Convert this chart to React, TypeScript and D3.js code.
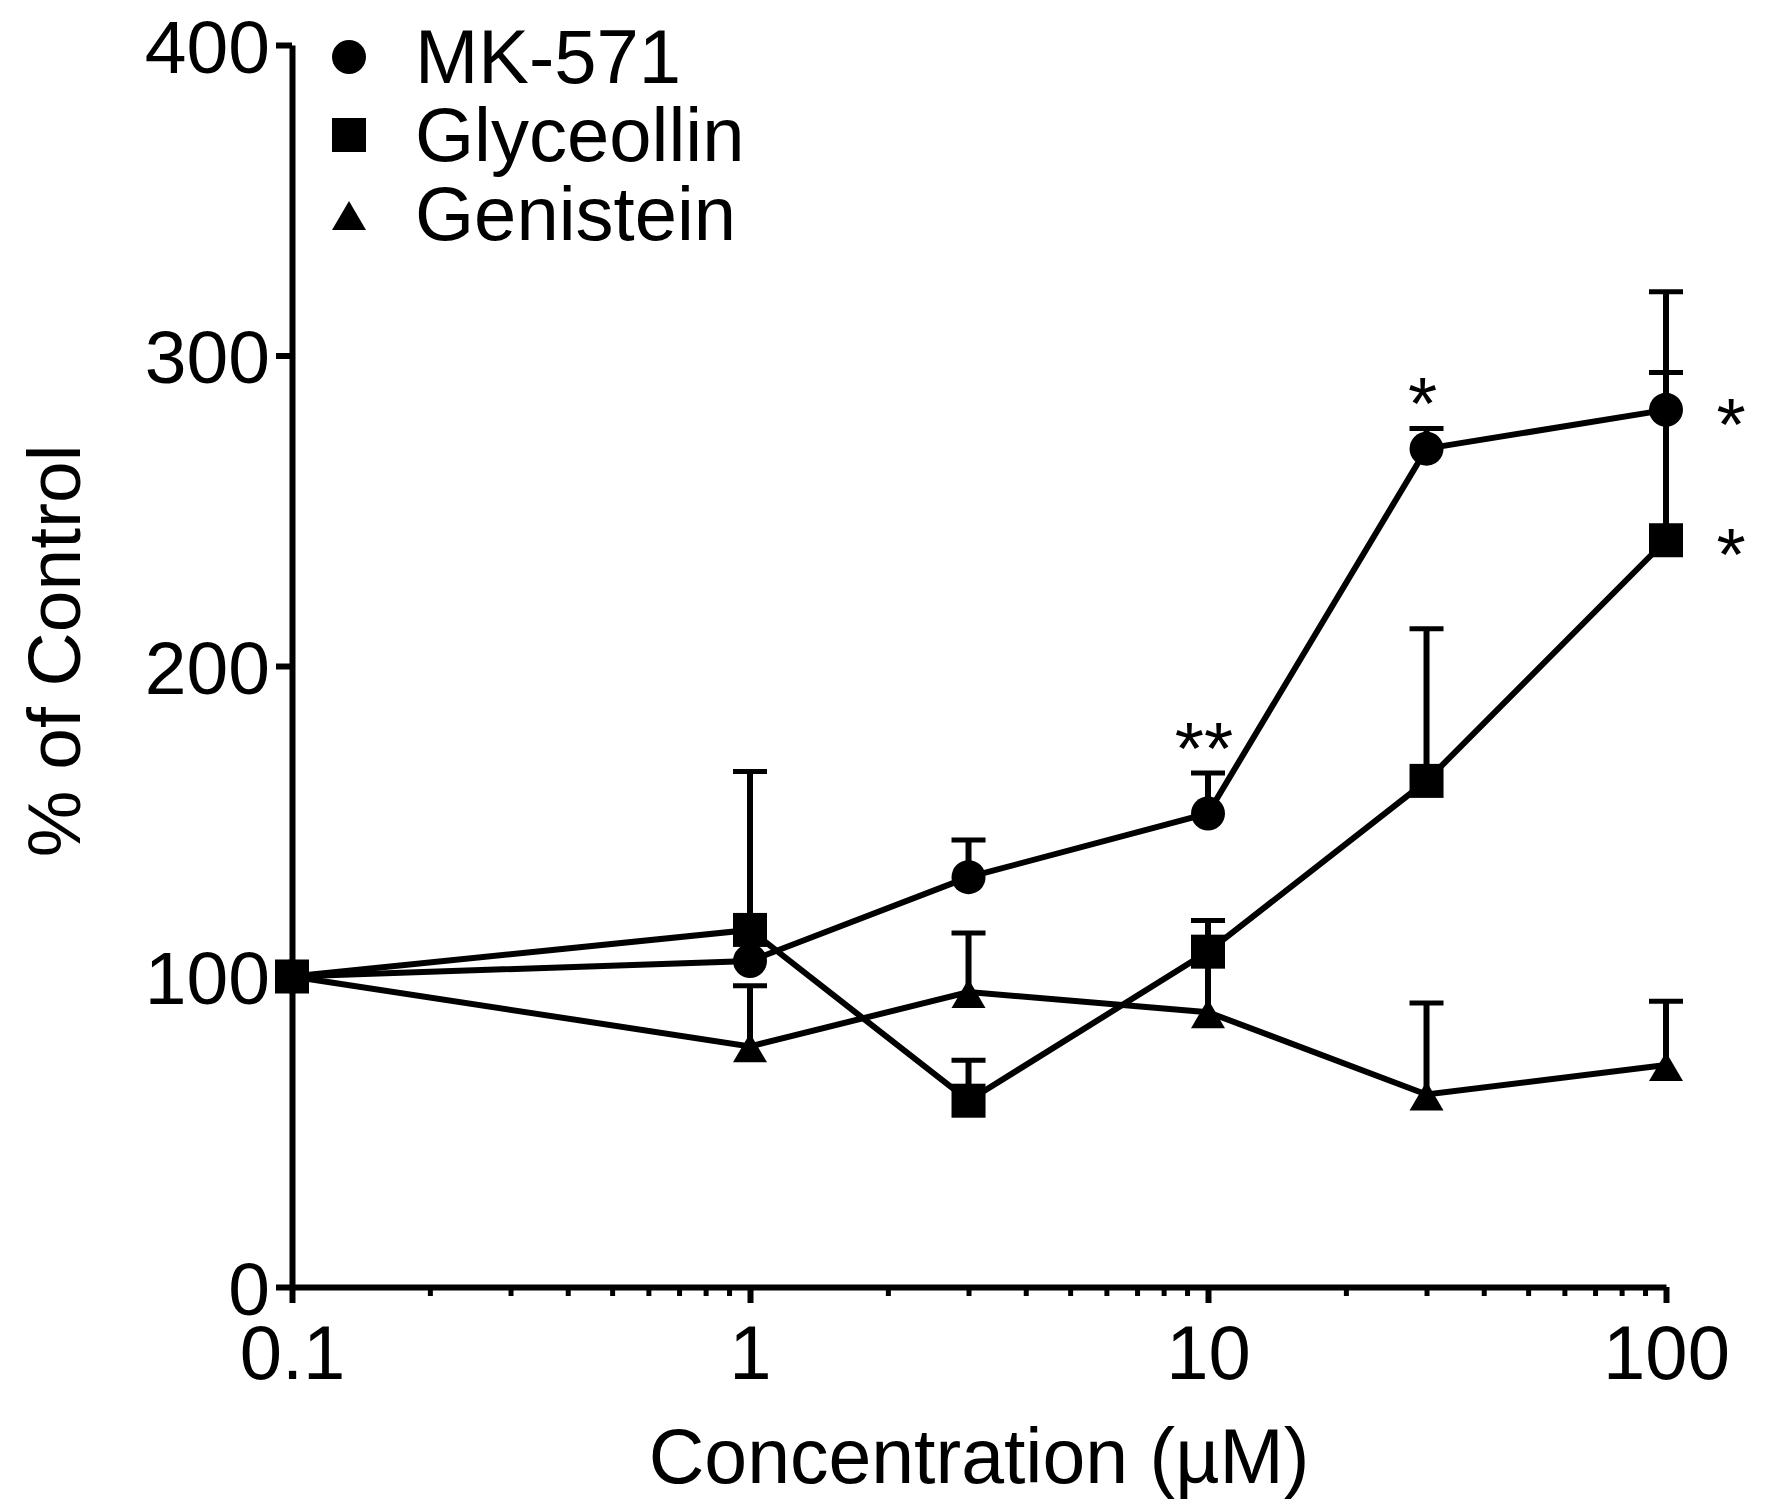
import React, { useRef, useEffect } from 'react';
import * as d3 from 'd3';

// concentrations (µM) and % of control
const concentrations = [0.1, 1, 3, 10, 30, 100];

const mk571 = [100, 105, 132, 152.5, 270, 282.5];
const mk571Err = [0, 9, 12, 13, 6.5, 38];

const glyceollin = [100, 115, 60, 108, 163, 240.5];
const glyceollinErr = [0, 51, 13, 10, 49, 54];

const genistein = [100, 77.5, 95, 88.5, 62, 71.5];
const genisteinErr = [0, 19.5, 19, 20, 29.5, 20.5];

const seriesNames = ['MK-571', 'Glyceollin', 'Genistein'];
const seriesShapes = ['circle', 'square', 'triangle'];

const xTicks = [0.1, 1, 10, 100];
const yTicks = [0, 100, 200, 300, 400];

// significance marks
const starLabels = ['**', '*', '*', '*'];
const starConc = [10, 30, 100, 100];
const starSeries = [0, 0, 0, 1];
const starSide = ['above', 'above', 'right', 'right'];

const FONT = '"Liberation Sans", Arial, Helvetica, sans-serif';

const Chart: React.FC = () => {
  const svgRef = useRef<SVGSVGElement | null>(null);

  useEffect(() => {
    const width = 1765;
    const height = 1510;
    const margin = { top: 45, right: 99, bottom: 223, left: 292 };

    const svg = d3.select(svgRef.current);
    svg.selectAll('*').remove();
    svg
      .attr('width', width)
      .attr('height', height)
      .style('background', '#fff')
      .style('font-family', FONT);

    const x = d3
      .scaleLog()
      .domain([0.1, 100])
      .range([margin.left, width - margin.right]);

    const y = d3
      .scaleLinear()
      .domain([0, 400])
      .range([height - margin.bottom, margin.top]);

    const values = [mk571, glyceollin, genistein];
    const errors = [mk571Err, glyceollinErr, genisteinErr];

    // minor x ticks
    const minor: number[] = [];
    [0.1, 1, 10].forEach(d => {
      for (let k = 2; k <= 9; k++) minor.push(d * k);
    });

    const gMinor = svg
      .append('g')
      .attr('transform', `translate(0,${y(0)})`)
      .call(d3.axisBottom(x).tickValues(minor).tickSize(9).tickFormat(() => ''));
    gMinor.select('.domain').remove();
    gMinor.selectAll('.tick line').attr('stroke', '#000').attr('stroke-width', 5);

    // x axis
    const gx = svg
      .append('g')
      .attr('transform', `translate(0,${y(0)})`)
      .call(
        d3
          .axisBottom(x)
          .tickValues(xTicks)
          .tickSize(16)
          .tickSizeOuter(0)
          .tickPadding(22)
          .tickFormat(d => String(d))
      );
    gx.select('.domain').attr('stroke', '#000').attr('stroke-width', 6);
    gx.selectAll('.tick line').attr('stroke', '#000').attr('stroke-width', 6);
    gx.selectAll('.tick text')
      .attr('fill', '#000')
      .style('font-size', '76px')
      .style('font-family', FONT);

    // y axis
    const gy = svg
      .append('g')
      .attr('transform', `translate(${x(0.1)},0)`)
      .call(
        d3
          .axisLeft(y)
          .tickValues(yTicks)
          .tickSize(16)
          .tickSizeOuter(0)
          .tickPadding(6)
          .tickFormat(d => String(d))
      );
    gy.select('.domain').attr('stroke', '#000').attr('stroke-width', 6);
    gy.selectAll('.tick line').attr('stroke', '#000').attr('stroke-width', 6);
    gy.selectAll('.tick text')
      .attr('fill', '#000')
      .attr('dy', '0.36em')
      .style('font-size', '75px')
      .style('font-family', FONT);

    // axis titles
    svg
      .append('text')
      .attr('x', (x(0.1) + x(100)) / 2)
      .attr('y', 1483)
      .attr('text-anchor', 'middle')
      .style('font-size', '77px')
      .text('Concentration (µM)');

    svg
      .append('text')
      .attr('transform', `translate(80,${(y(0) + y(400)) / 2 - 15}) rotate(-90)`)
      .attr('text-anchor', 'middle')
      .style('font-size', '75px')
      .text('% of Control');

    const drawMarker = (g: any, shape: string, cx: number, cy: number) => {
      if (shape === 'circle') {
        g.append('circle').attr('cx', cx).attr('cy', cy).attr('r', 17).attr('fill', '#000');
      } else if (shape === 'square') {
        g.append('rect')
          .attr('x', cx - 17)
          .attr('y', cy - 17)
          .attr('width', 34)
          .attr('height', 34)
          .attr('fill', '#000');
      } else {
        const h = 29;
        g.append('path')
          .attr('d', `M${cx},${cy - 0.45 * h}L${cx + 17},${cy + 0.55 * h}L${cx - 17},${cy + 0.55 * h}Z`)
          .attr('fill', '#000');
      }
    };

    const line = d3
      .line<number>()
      .x((_, i) => x(concentrations[i]))
      .y(d => y(d));

    const plot = svg.append('g');

    // connecting lines
    values.forEach(vals => {
      plot
        .append('path')
        .attr('d', line(vals))
        .attr('fill', 'none')
        .attr('stroke', '#000')
        .attr('stroke-width', 6)
        .attr('stroke-linejoin', 'miter');
    });

    // error bars (upper only)
    values.forEach((vals, s) => {
      vals.forEach((v, i) => {
        const e = errors[s][i];
        if (!e) return;
        const cx = x(concentrations[i]);
        plot
          .append('line')
          .attr('x1', cx)
          .attr('x2', cx)
          .attr('y1', y(v))
          .attr('y2', y(v + e))
          .attr('stroke', '#000')
          .attr('stroke-width', 6);
        plot
          .append('line')
          .attr('x1', cx - 17)
          .attr('x2', cx + 17)
          .attr('y1', y(v + e))
          .attr('y2', y(v + e))
          .attr('stroke', '#000')
          .attr('stroke-width', 5);
      });
    });

    // markers
    values.forEach((vals, s) => {
      vals.forEach((v, i) => drawMarker(plot, seriesShapes[s], x(concentrations[i]), y(v)));
    });

    // significance stars
    starLabels.forEach((lab, k) => {
      const s = starSeries[k];
      const i = concentrations.indexOf(starConc[k]);
      const v = values[s][i];
      const e = errors[s][i];
      const t = svg.append('text').style('font-size', '75px').text(lab);
      if (starSide[k] === 'above') {
        t.attr('x', x(starConc[k]) - 4).attr('y', y(v + e) + 1).attr('text-anchor', 'middle');
      } else {
        t.attr('x', x(starConc[k]) + 65).attr('y', y(v) + 40).attr('text-anchor', 'middle');
      }
    });

    // legend
    const legend = svg.append('g');
    const legendY = [57, 135, 214];
    seriesNames.forEach((name, i) => {
      drawMarker(legend, seriesShapes[i], 349, legendY[i]);
      legend
        .append('text')
        .attr('x', 415)
        .attr('y', legendY[i] + 26)
        .style('font-size', '76px')
        .text(name);
    });
  }, []);

  return <svg ref={svgRef} style={{ position: 'absolute', left: 0, top: 0 }}></svg>;
};

export default function App() {
  return <Chart />;
}
